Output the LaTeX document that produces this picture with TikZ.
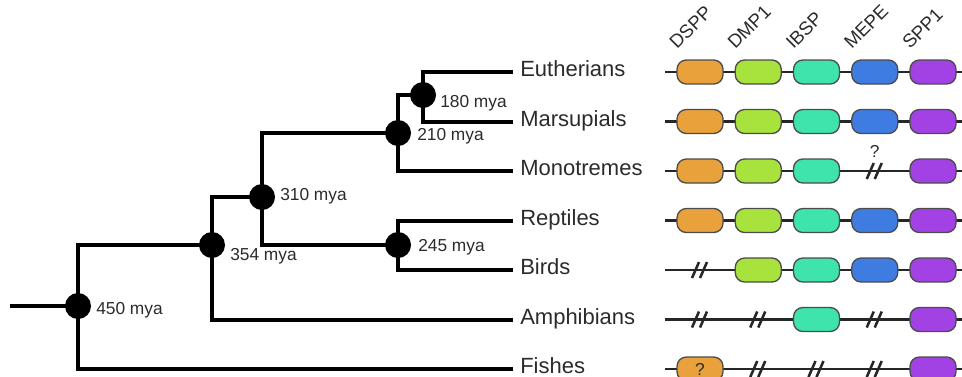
\documentclass[tikz,border=0pt]{standalone}
\usepackage{fontspec}
\setmainfont{Liberation Sans}
\usetikzlibrary{backgrounds}
\definecolor{GeneDSPP}{HTML}{E9A23B}
\definecolor{GeneDMP}{HTML}{A8E23C}
\definecolor{GeneIBSP}{HTML}{3EE4AC}
\definecolor{GeneMEPE}{HTML}{3F7CE2}
\definecolor{GeneSPP}{HTML}{A242E4}
\definecolor{TxtGrey}{HTML}{2B2B2B}
% two slashes on the backbone where a gene is lost
\newcommand{\GeneBreak}[2]{%
  \draw[genebreak] (#1-8,#2+8) -- (#1-1,#2-8);
  \draw[genebreak] (#1,#2+8) -- (#1+7,#2-8);}
% 0 = lost, 1 = present, 2 = lost (?), 3 = present (?)
\newcommand{\GeneSlot}[5]{%
  \ifcase#4\relax
    \GeneBreak{#2}{#3}%
  \or \node[gene=#5] (#1) at (#2,#3) {};%
  \or \GeneBreak{#2}{#3}\node[qmark] (#1) at (#2,#3-20) {?};%
  \or \node[gene=#5,font=\fontsize{13}{13}\selectfont,text=TxtGrey] (#1) at (#2,#3) {?};%
  \fi}

\begin{document}
\begin{tikzpicture}[x=0.75pt,y=-0.75pt,
    branch/.style={line width=3pt},
    dot/.style={circle,fill=black,inner sep=0pt,minimum size=19.5pt},
    mya/.style={anchor=west,inner sep=0pt,text=TxtGrey,font=\fontsize{13}{13}\selectfont},
    taxon/.style={anchor=west,inner ysep=0pt,inner xsep=5.25pt,text height=0.72em,text depth=0pt,
      text=TxtGrey,font=\fontsize{16.5}{16.5}\selectfont},
    backbone/.style={line width=1.9pt,black!85},
    genebreak/.style={line width=1.9pt,black!85},
    gene/.style={draw=black!70,line width=1pt,rounded corners=7pt,
      minimum width=34.5pt,minimum height=18pt,inner sep=0pt,fill=#1},
    qmark/.style={inner sep=0pt,text=TxtGrey,font=\fontsize{13}{13}\selectfont},
    genelabel/.style={rotate=45,anchor=base west,inner sep=0pt,text=TxtGrey,
      font=\fontsize{14}{14}\selectfont}]
  \useasboundingbox (0,0) rectangle (962,376);

  % tree
  \coordinate (root) at (10,306);
  \node[dot] (n450) at (78,306) {};
  \node[dot] (n354) at (212,245) {};
  \node[dot] (n310) at (262,197) {};
  \node[dot] (n245) at (398,245) {};
  \node[dot] (n210) at (398,133) {};
  \node[dot] (n180) at (423,95) {};
  \node[mya] (t450) at (96,310) {450 mya};
  \node[mya] (t354) at (230,256) {354 mya};
  \node[mya] (t310) at (280,196) {310 mya};
  \node[mya] (t245) at (418,247) {245 mya};
  \node[mya] (t210) at (417,136) {210 mya};
  \node[mya] (t180) at (440,103) {180 mya};

  \foreach \nm/\txt/\y in {eut/Eutherians/72,mar/Marsupials/121.5,mon/Monotremes/171,
      rep/Reptiles/220.5,bir/Birds/270,amp/Amphibians/319.5,fis/Fishes/369}
    \node[taxon] (\nm) at (513,\y) {\txt};

  \begin{scope}[on background layer]
    \draw[branch] (root) -- (n450.center);
    \draw[branch] (n450.center) |- (n354.center);
    \draw[branch] (n450.center) |- (fis.west);
    \draw[branch] (n354.center) |- (n310.center);
    \draw[branch] (n354.center) |- (amp.west);
    \draw[branch] (n310.center) |- (n210.center);
    \draw[branch] (n310.center) |- (n245.center);
    \draw[branch] (n245.center) |- (rep.west);
    \draw[branch] (n245.center) |- (bir.west);
    \draw[branch] (n210.center) |- (n180.center);
    \draw[branch] (n210.center) |- (mon.west);
    \draw[branch] (n180.center) |- (eut.west);
    \draw[branch] (n180.center) |- (mar.west);
  \end{scope}

  % gene clusters
  \foreach \g/\x in {DSPP/700,DMP1/758.25,IBSP/816.5,MEPE/874.75,SPP1/933}
    \node[genelabel] (lab-\g) at (\x-23,50) {\g};

  \foreach \row/\y/\a/\b/\c/\d/\e in {eut/72/1/1/1/1/1,mar/121.5/1/1/1/1/1,
      mon/171/1/1/1/2/1,rep/220.5/1/1/1/1/1,bir/270/0/1/1/1/1,
      amp/319.5/0/0/1/0/1,fis/369/3/0/0/0/1}{
    \coordinate (\row-s) at (665,\y);
    \coordinate (\row-e) at (962,\y);
    \draw[backbone] (\row-s) -- (\row-e);
    \GeneSlot{\row-1}{700}{\y}{\a}{GeneDSPP}
    \GeneSlot{\row-2}{758.25}{\y}{\b}{GeneDMP}
    \GeneSlot{\row-3}{816.5}{\y}{\c}{GeneIBSP}
    \GeneSlot{\row-4}{874.75}{\y}{\d}{GeneMEPE}
    \GeneSlot{\row-5}{933}{\y}{\e}{GeneSPP}
  }
\end{tikzpicture}
\end{document}
